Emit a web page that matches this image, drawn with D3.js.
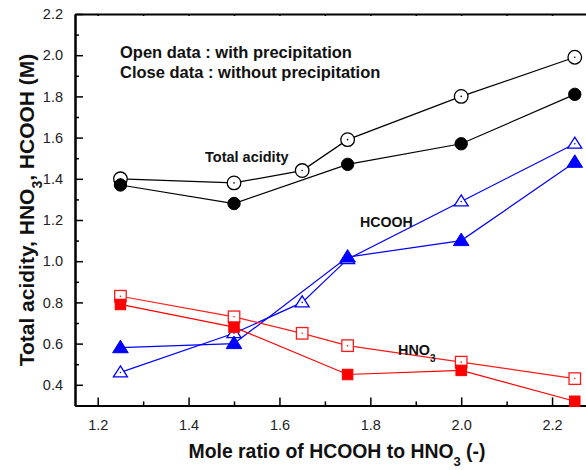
<!DOCTYPE html>
<html><head><meta charset="utf-8">
<script src="https://cdn.jsdelivr.net/npm/d3@7"></script>
<style>
html,body{margin:0;padding:0;background:#fff;}
text{font-family:"Liberation Sans",Arial,sans-serif;}
</style></head>
<body>
<svg id="chart" width="586" height="470"></svg>
<script>
// ---- data ----
const xOpen = [1.25, 1.5, 1.65, 1.75, 2.0, 2.25];
const xClosed = [1.25, 1.5, 1.75, 2.0, 2.25];
const acidityOpen = [1.40, 1.38, 1.44, 1.59, 1.80, 1.99];
const acidityClosed = [1.37, 1.28, 1.47, 1.57, 1.81];
const hcoohOpen = [0.46, 0.65, 0.80, 1.01, 1.29, 1.57];
const hcoohClosed = [0.58, 0.60, 1.02, 1.10, 1.48];
const hno3Open = [0.83, 0.73, 0.65, 0.59, 0.51, 0.43];
const hno3Closed = [0.79, 0.68, 0.45, 0.47, 0.32];
const xMajorTicks = [1.2, 1.4, 1.6, 1.8, 2.0, 2.2];
const xMinorTicks = [1.3, 1.5, 1.7, 1.9, 2.1];
const yMajorTicks = [0.4, 0.6, 0.8, 1.0, 1.2, 1.4, 1.6, 1.8, 2.0, 2.2];
const yMinorTicks = [0.5, 0.7, 0.9, 1.1, 1.3, 1.5, 1.7, 1.9, 2.1];

const svg = d3.select("#chart");
const L = 75, R = 597.5, T = 14, B = 405.4;
const x = d3.scaleLinear().domain([1.15, 2.3]).range([L, R]);
const y = d3.scaleLinear().domain([0.3, 2.2]).range([B, T]);

// axes
const fmt = d3.format(".1f");
const gx = svg.append("g").attr("transform", `translate(0,${B})`)
  .call(d3.axisBottom(x).tickValues(xMajorTicks).tickFormat(fmt).tickSizeInner(-8).tickSizeOuter(0).tickPadding(14));
const gxm = svg.append("g").attr("transform", `translate(0,${B})`)
  .call(d3.axisBottom(x).tickValues(xMinorTicks).tickFormat("").tickSizeInner(-4).tickSizeOuter(0));
const gy = svg.append("g").attr("transform", `translate(${L},0)`)
  .call(d3.axisLeft(y).tickValues(yMajorTicks).tickFormat(fmt).tickSizeInner(-8).tickSizeOuter(0).tickPadding(12));
const gym = svg.append("g").attr("transform", `translate(${L},0)`)
  .call(d3.axisLeft(y).tickValues(yMinorTicks).tickFormat("").tickSizeInner(-4).tickSizeOuter(0));
const gt = svg.append("g").attr("transform", `translate(0,${T})`)
  .call(d3.axisTop(x).tickValues(xMajorTicks.concat(xMinorTicks)).tickFormat("").tickSizeInner(-2).tickSizeOuter(0));
[gx, gxm, gy, gym, gt].forEach(g => {
  g.select(".domain").attr("stroke", "#000").attr("stroke-width", 2);
  g.selectAll(".tick line").attr("stroke", "#000").attr("stroke-width", 1.5);
  g.selectAll(".tick text").attr("font-size", 14.5).attr("fill", "#222")
    .style("font-family", '"Liberation Sans",Arial,sans-serif');
});
svg.append("line").attr("x1", R).attr("x2", R).attr("y1", T).attr("y2", B).attr("stroke", "#000").attr("stroke-width", 2);

// series
const line = d3.line().x(d => x(d[0])).y(d => y(d[1]));
const zip = (xs, ys) => xs.map((v, i) => [v, ys[i]]);
const series = [
  {pts: zip(xOpen, acidityOpen), color: "#000", shape: "circle", open: true},
  {pts: zip(xClosed, acidityClosed), color: "#000", shape: "circle", open: false},
  {pts: zip(xOpen, hcoohOpen), color: "#0000ff", shape: "triangle", open: true},
  {pts: zip(xClosed, hcoohClosed), color: "#0000ff", shape: "triangle", open: false},
  {pts: zip(xOpen, hno3Open), color: "#ff1a1a", shape: "square", open: true},
  {pts: zip(xClosed, hno3Closed), color: "#ff0000", shape: "square", open: false},
];
series.forEach(s => {
  svg.append("path").attr("d", line(s.pts)).attr("fill", "none")
    .attr("stroke", s.color).attr("stroke-width", 1.2);
});
series.forEach(s => {
  const g = svg.append("g");
  s.pts.forEach(p => {
    const cx = x(p[0]), cy = y(p[1]);
    let m;
    if (s.shape === "circle") {
      m = g.append("circle").attr("cx", cx).attr("cy", cy).attr("r", s.open ? 6.8 : 6.2);
    } else if (s.shape === "triangle") {
      const h = s.open ? 11 : 12.5, w = s.open ? 7 : 7.8;
      m = g.append("path").attr("d", `M${cx},${cy - h*0.6}L${cx + w},${cy + h*0.4}L${cx - w},${cy + h*0.4}Z`);
    } else {
      const a = s.open ? 11.5 : 10.5;
      m = g.append("rect").attr("x", cx - a/2).attr("y", cy - a/2).attr("width", a).attr("height", a);
    }
    if (s.open) {
      m.attr("fill", "#fff").attr("stroke", s.color).attr("stroke-width", 1.3);
      g.append("circle").attr("cx", cx).attr("cy", cy).attr("r", 0.8).attr("fill", s.color);
    } else {
      m.attr("fill", s.color).attr("stroke", s.color).attr("stroke-width", 1);
    }
  });
});

// annotations
svg.append("text").attr("x", 120).attr("y", 58).attr("font-size", 16.5).attr("font-weight", "bold")
  .attr("fill", "#111").text("Open data : with precipitation");
svg.append("text").attr("x", 120).attr("y", 78).attr("font-size", 16.5).attr("font-weight", "bold")
  .attr("fill", "#111").text("Close data : without precipitation");
svg.append("text").attr("x", 205).attr("y", 162).attr("font-size", 14.5).attr("font-weight", "bold")
  .attr("fill", "#111").text("Total acidity");
svg.append("text").attr("x", 360).attr("y", 227).attr("font-size", 14.2).attr("font-weight", "bold")
  .attr("fill", "#111").text("HCOOH");
const hn = svg.append("text").attr("x", 398).attr("y", 355).attr("font-size", 14.4).attr("font-weight", "bold").attr("fill", "#111");
hn.append("tspan").text("HNO");
hn.append("tspan").attr("dy", 7).attr("font-size", 10).text("3");

// axis titles
const xt = svg.append("text").attr("x", 337).attr("y", 458).attr("text-anchor", "middle")
  .attr("font-size", 19.4).attr("font-weight", "bold").attr("fill", "#111");
xt.append("tspan").text("Mole ratio of HCOOH to HNO");
xt.append("tspan").attr("dy", 8).attr("font-size", 13).text("3");
xt.append("tspan").attr("dy", -8).text(" (-)");

const yt = svg.append("text").attr("transform", "translate(34,210) rotate(-90)").attr("text-anchor", "middle")
  .attr("font-size", 21).attr("font-weight", "bold").attr("fill", "#111");
yt.append("tspan").text("Total acidity, HNO");
yt.append("tspan").attr("dy", 8).attr("font-size", 14).text("3");
yt.append("tspan").attr("dy", -8).text(", HCOOH (M)");
</script>
</body></html>
